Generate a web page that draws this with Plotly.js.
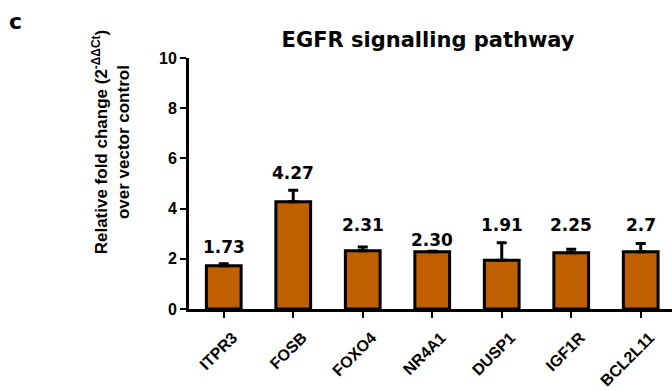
<!DOCTYPE html>
<html>
<head>
<meta charset="utf-8">
<script src="https://cdn.plot.ly/plotly-3.0.1.min.js"></script>
<style>html,body{margin:0;padding:0;background:#fff;}#chart{width:672px;height:391px;}</style>
</head>
<body>
<div id="chart"></div>
<script>
var genes = ["ITPR3", "FOSB", "FOXO4", "NR4A1", "DUSP1", "IGF1R", "BCL2L11"];
var foldChange = [1.72, 4.27, 2.32, 2.28, 1.94, 2.24, 2.28];
var errorUp = [0.08, 0.46, 0.15, 0.02, 0.70, 0.14, 0.33];
var valueLabels = ["1.73", "4.27", "2.31", "2.30", "1.91", "2.25", "2.7"];
var yTicks = [0, 2, 4, 6, 8, 10];

// vertical placement of the value labels (layout, data units)
var labelY = [2.48, 5.42, 3.35, 2.75, 3.35, 3.35, 3.35];

var trace = {
  type: "bar",
  x: genes,
  y: foldChange,
  width: 0.5,
  marker: {color: "#BF5F00", line: {color: "#000", width: 3}},
  error_y: {type: "data", symmetric: false, array: errorUp, arrayminus: genes.map(function(){return 0;}),
            color: "#000", thickness: 3, width: 5},
  hoverinfo: "none"
};

var annotations = genes.map(function(g, i) {
  return {x: g, y: labelY[i], xref: "x", yref: "y", text: "<b>" + valueLabels[i] + "</b>", showarrow: false,
          font: {family: "DejaVu Sans, sans-serif", size: 17, color: "#000"}};
});
annotations.push({xref: "paper", yref: "paper", x: -0.161, y: 0.665, xanchor: "center", yanchor: "middle",
  text: "<b>Relative fold change (2<sup>-ΔΔCt</sup>)</b><br><b>over vector control</b>",
  textangle: -90, showarrow: false, align: "center",
  font: {family: "Liberation Sans, Arial, sans-serif", size: 17, color: "#000"}});
annotations.push({xref: "paper", yref: "paper", x: -0.36, y: 1.147, xanchor: "center", yanchor: "middle",
  text: "<b>c</b>", showarrow: false,
  font: {family: "DejaVu Sans, sans-serif", size: 22, color: "#000"}});

var layout = {
  width: 672, height: 391,
  margin: {l: 189, r: 0, t: 58, b: 82, pad: 0},
  paper_bgcolor: "#fff", plot_bgcolor: "#fff",
  showlegend: false,
  title: {text: "<b>EGFR signalling pathway</b>", x: 0.495, xref: "paper", xanchor: "center",
          y: 0.898, yref: "container", yanchor: "middle",
          font: {family: "DejaVu Sans, sans-serif", size: 21, color: "#000"}},
  xaxis: {range: [-0.5, 6.45], showgrid: false, zeroline: false, showline: true, linewidth: 3, linecolor: "#000",
          ticks: "outside", ticklen: 6, tickwidth: 2, tickcolor: "#000", tickangle: -45,
          ticklabelstandoff: 4, ticklabelshift: 9,
          tickfont: {family: "Liberation Sans, Arial, sans-serif", size: 16, color: "#000", weight: 700}},
  yaxis: {range: [0, 10], tickvals: yTicks, showgrid: false, zeroline: false, showline: true, linewidth: 3, linecolor: "#000",
          ticks: "outside", ticklen: 6, tickwidth: 2, tickcolor: "#000",
          tickfont: {family: "Liberation Sans, Arial, sans-serif", size: 16, color: "#000", weight: 700}},
  annotations: annotations
};

Plotly.newPlot("chart", [trace], layout, {displayModeBar: false, staticPlot: true});
</script>
</body>
</html>
